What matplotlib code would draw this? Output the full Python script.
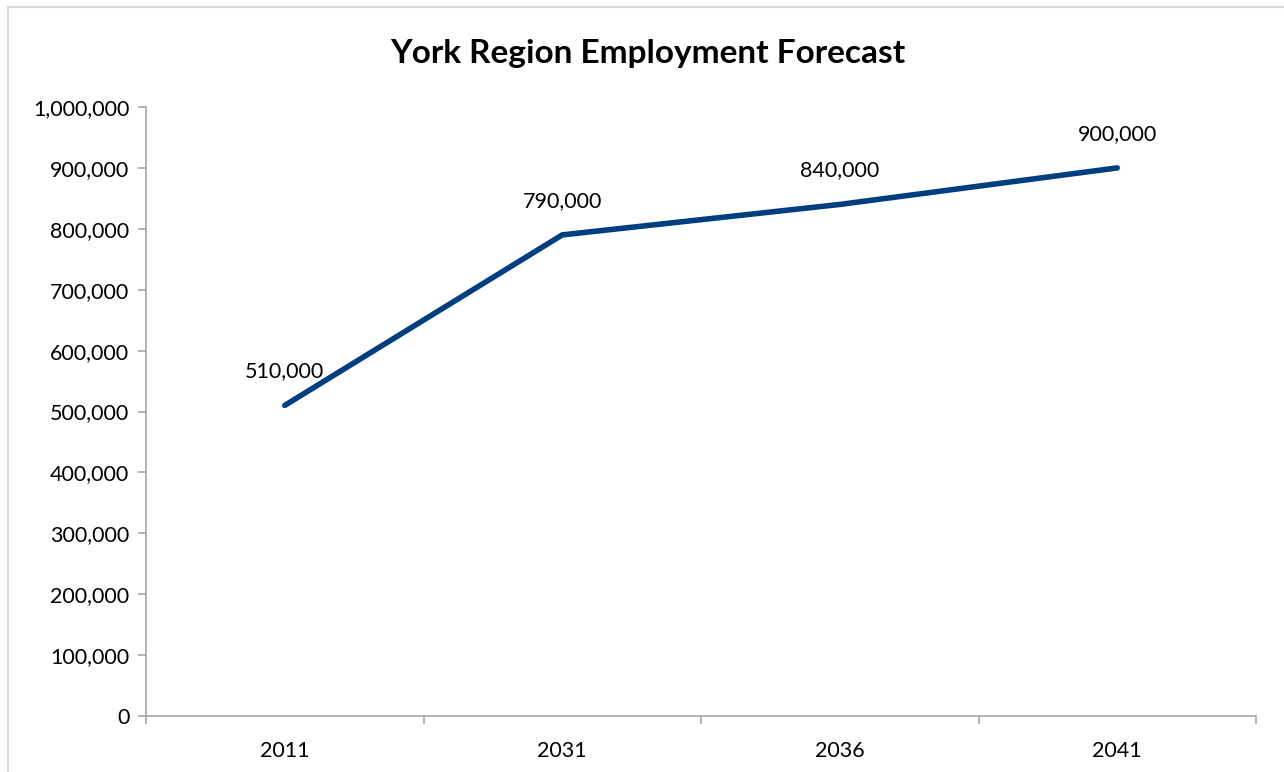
import matplotlib.pyplot as plt
from matplotlib.patches import Rectangle
from matplotlib.ticker import FuncFormatter

years = ["2011", "2031", "2036", "2041"]
employment = [510000, 790000, 840000, 900000]

plt.rcParams["font.family"] = ["Lato", "DejaVu Sans"]

fig = plt.figure(figsize=(12.84, 7.72), dpi=100)
ax = fig.add_axes([146 / 1284, 1 - 716 / 772, (1256 - 146) / 1284, (716 - 107) / 772])

# chart frame, cut off on the right and bottom edges
fig.patches.append(Rectangle((8 / 1284, -0.01), 1.1, 1 - 7 / 772 + 0.01,
                             transform=fig.transFigure, fill=False,
                             edgecolor="#d9d9d9", linewidth=1.5))

x = range(len(years))
ax.plot(x, employment, color="#003f7f", linewidth=4, solid_capstyle="round",
        solid_joinstyle="miter")

for xi, v in zip(x, employment):
    ax.annotate(f"{v:,}", (xi, v), xytext=(0, 24), textcoords="offset pixels",
                ha="center", va="bottom", fontsize=15.5)

ax.set_xlim(-0.5, len(years) - 0.5)
ax.set_ylim(0, 1000000)
ax.set_yticks(range(0, 1000001, 100000))
ax.yaxis.set_major_formatter(FuncFormatter(lambda v, p: f"{int(v):,}"))
ax.set_xticks(list(x))
ax.set_xticklabels(years)
ax.set_xticks([i - 0.5 for i in range(len(years) + 1)], minor=True)
ax.tick_params(axis="x", which="major", length=0, pad=18, labelsize=15.5)
ax.tick_params(axis="x", which="minor", length=6, color="#a6a6a6", width=1.2)
ax.tick_params(axis="y", length=6, color="#a6a6a6", width=1.2, labelsize=15.5, pad=6)

for side in ("top", "right"):
    ax.spines[side].set_visible(False)
for side in ("left", "bottom"):
    ax.spines[side].set_color("#a6a6a6")
    ax.spines[side].set_linewidth(1.2)

fig.text(648 / 1284, 1 - 53 / 772, "York Region Employment Forecast",
         ha="center", va="center", fontsize=24, fontweight="bold")

fig.savefig("out.png", dpi=100)
